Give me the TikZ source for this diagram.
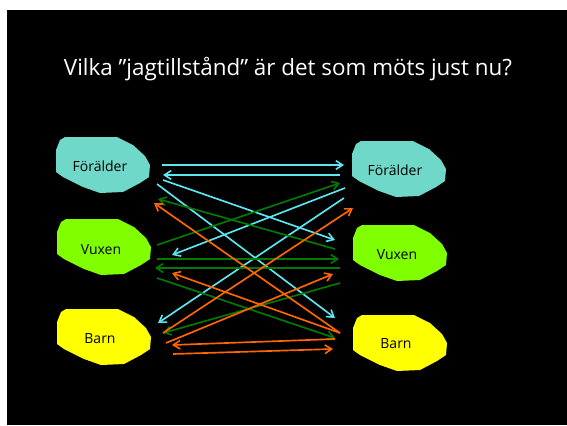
\documentclass[tikz,border=0pt]{standalone}
\usepackage{fontspec}
\setmainfont{Open Sans}
\usetikzlibrary{arrows.meta}
\definecolor{bgblack}{HTML}{000000}
\definecolor{fcol}{HTML}{70D8C8}
\definecolor{vcol}{HTML}{80FF00}
\definecolor{bcol}{HTML}{FFFF00}
\definecolor{cyanline}{HTML}{5CE6F0}
\definecolor{greenline}{HTML}{007A00}
\definecolor{orangeline}{HTML}{FF6600}
\tikzset{
  lab/.style={inner sep=0pt, text=black, font=\fontsize{10.5}{12}\selectfont},
  conn/.style={line width=1.25pt, -{Straight Barb[length=5pt,width=6.5pt,line width=1.2pt]}},
  cy/.style={conn, draw=cyanline},
  gr/.style={conn, draw=greenline},
  og/.style={conn, draw=orangeline},
}
\newcommand{\blobpath}[2]{%
  \fill[#2, shift={(#1)}] (-40,-26) -- (-35,-29) -- (17,-29) -- (33,-21) -- (45,-10) -- (50,-1) -- (49,11) -- (40,17) -- (23,26) -- (0,27) -- (-17,21) -- (-37,11) -- (-44,6) -- (-44,-16) -- cycle;}
\begin{document}
\begin{tikzpicture}[x=0.75pt,y=-0.75pt]
\useasboundingbox (0,0) rectangle (567,425);
\fill[white] (0,0) rectangle (567,425);
\fill[bgblack] (7,10) rectangle (567,425);
\node[text=white, font=\fontsize{16.8}{20}\selectfont, inner sep=0pt] (title) at (288,69) {Vilka ”jagtillstånd” är det som möts just nu?};
% blobs
\blobpath{100,166}{fcol}
\blobpath{101,248}{vcol}
\blobpath{101,338}{bcol}
\blobpath{396,170}{fcol}
\blobpath{397,254}{vcol}
\blobpath{397,344}{bcol}
\node[lab] (FL) at (100,166) {Förälder};
\node[lab] (VL) at (101,250) {Vuxen};
\node[lab] (BL) at (100,339) {Barn};
\node[lab] (FR) at (395,170) {Förälder};
\node[lab] (VR) at (397,255) {Vuxen};
\node[lab] (BR) at (396,344) {Barn};
% cyan: from Förälder
\draw[cy] ([shift={(62,-1)}]FL.center) -- ([shift={(-51,-5)}]FR.center);
\draw[cy] ([shift={(-55,5)}]FR.center) -- ([shift={(63,9)}]FL.center);
\draw[cy] ([shift={(63,14)}]FL.center) -- ([shift={(-62,-15)}]VR.center);
\draw[cy] ([shift={(57,18)}]FL.center) -- ([shift={(-61,-26)}]BR.center);
\draw[cy] ([shift={(-50,18)}]FR.center) -- ([shift={(71,5)}]VL.center);
\draw[cy] ([shift={(-51,28)}]FR.center) -- ([shift={(58,-16)}]BL.center);
% green: from Vuxen
\draw[gr] ([shift={(56,-5)}]VL.center) -- ([shift={(-55,13)}]FR.center);
\draw[gr] ([shift={(-62,-6)}]VR.center) -- ([shift={(58,33)}]FL.center);
\draw[gr] ([shift={(56,9)}]VL.center) -- ([shift={(-58,4)}]VR.center);
\draw[gr] ([shift={(-57,13)}]VR.center) -- ([shift={(54,18)}]VL.center);
\draw[gr] ([shift={(56,28)}]VL.center) -- ([shift={(-61,-6)}]BR.center);
\draw[gr] ([shift={(-57,28)}]VR.center) -- ([shift={(63,-6)}]BL.center);
% orange: from Barn
\draw[og] ([shift={(-56,-11)}]BR.center) -- ([shift={(54,37)}]FL.center);
\draw[og] ([shift={(-56,-11)}]BR.center) -- ([shift={(71,23)}]VL.center);
\draw[og] ([shift={(63,-6)}]BL.center) -- ([shift={(-42,38)}]FR.center);
\draw[og] ([shift={(66,4)}]BL.center) -- ([shift={(-64,19)}]VR.center);
\draw[og] ([shift={(-61,-5)}]BR.center) -- ([shift={(72,6)}]BL.center);
\draw[og] ([shift={(73,15)}]BL.center) -- ([shift={(-63,5)}]BR.center);
\end{tikzpicture}
\end{document}
